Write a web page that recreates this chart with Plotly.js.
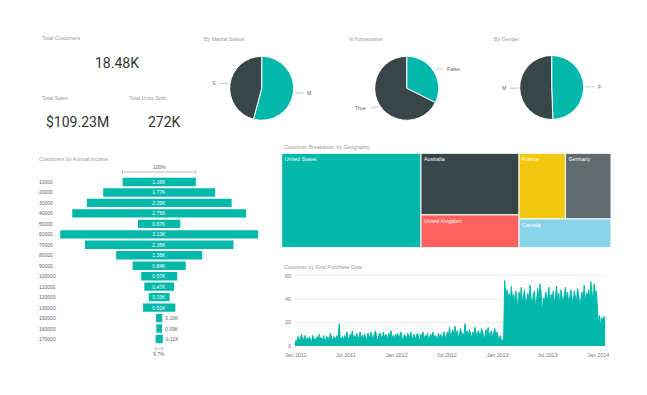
<!DOCTYPE html>
<html><head><meta charset="utf-8">
<script src="https://cdn.plot.ly/plotly-3.0.1.min.js"></script>
<style>html,body{margin:0;padding:0;background:#fff;}#chart{width:647px;height:395px;}</style>
</head><body><div id="chart"></div>
<script>
// ---------- DATA ----------
const kpiLabels = ['Total Customers', 'Total Sales', 'Total Units Sold'];
const kpiValues = [18484, 109230000, 272000];

const pieTitles = ['By Marital Status', 'Is Homeowner', 'By Gender'];
const maritalLabels = ['M', 'S'];
const maritalValues = [10011, 8473];
const homeLabels = ['False', 'True'];
const homeValues = [5982, 12502];
const genderLabels = ['F', 'M'];
const genderValues = [9133, 9351];

const incomeTitle = 'Customers by Annual Income';
const incomeCategories = ['10000','20000','30000','40000','50000','60000','70000','80000','90000','100000','110000','120000','130000','150000','160000','170000'];
const incomeCustomers = [1160,1770,2290,2750,670,3130,2350,1360,840,570,470,330,510,100,90,113];

const geoTitle = 'Customer Breakdown by Geography';
const geoRoot = 'All';
const countries = ['United States','Australia','United Kingdom','France','Germany','Canada'];
const countryCustomers = [7819,3591,1913,1810,1780,1571];

const dateTitle = 'Customer by First Purchase Date';
const firstPurchaseStart = '2010-12-29';
const firstPurchaseStepDays = 4;
const firstPurchaseCounts = [
 5,3,6,8,4,7,10,5,6,9,4,7,5,8,6,3,9,7,5,6,8,4,10,6,7,5,9,4,6,8,7,5,11,6,4,8,7,6,9,5,19,7,6,8,5,
 9,6,12,7,5,10,8,13,6,9,7,11,5,8,12,7,9,6,10,8,4,11,9,7,12,6,8,10,13,7,5,9,11,8,6,12,7,10,9,5,11,8,13,7,9,6,10,
 8,11,6,9,12,7,5,10,8,6,11,9,7,12,5,8,10,6,9,11,7,4,10,8,12,6,9,7,11,5,8,10,7,12,6,9,8,5,11,7,10,6,9,12,8,7,
 12,9,16,7,11,14,8,17,10,13,6,12,15,9,11,7,19,10,13,8,14,11,6,12,9,16,10,7,13,11,8,15,12,9,6,14,10,16,8,11,13,7,10,15,9,12,
 8,5,9,4,6,3,
 56,42,48,38,45,35,51,40,44,37,47,41,33,46,39,50,36,43,48,34,41,45,38,52,40,36,44,47,31,42,49,38,53,45,28,41,37,46,43,39,
 50,35,44,40,47,36,42,51,38,45,33,48,41,37,44,50,39,46,35,43,48,40,36,47,42,38,49,44,34,41,46,39,52,37,45,43,48,40,55,46,38,53,44,47,
 30,18,26,15,24,22,25,23
];

// ---------- STYLE ----------
const W = 647, H = 395;
const TEAL = '#01B8AA', DARK = '#374649';
const geoColors = ['#01B8AA','#374649','#FD625E','#F2C80F','#5F6B6D','#8AD4EB'];
const smallFont = 'Liberation Sans, Arial, sans-serif';
const titleColor = '#9a9a9a';
const px = x => x / W;
const py = y => 1 - y / H;

const annotations = [];
const shapes = [];
function label(text, x, y, opts) {
  annotations.push(Object.assign({text: text, x: px(x), y: py(y), xref: 'paper', yref: 'paper',
    showarrow: false, xanchor: 'left', yanchor: 'middle',
    font: {family: smallFont, size: 5.3, color: titleColor}}, opts || {}));
}

// KPI cards
const fmtK = v => (v / 1000).toFixed(2) + 'K';
const kpiText = [fmtK(kpiValues[0]), '$' + (kpiValues[1] / 1e6).toFixed(2) + 'M', Math.round(kpiValues[2] / 1000) + 'K'];
label(kpiLabels[0], 40, 38);
label(kpiLabels[1], 40, 98);
label(kpiLabels[2], 127, 98);
const bigFont = {family: 'Roboto, sans-serif', size: 14, color: '#333'};
label(kpiText[0], 116.5, 63, {xanchor: 'center', font: bigFont});
label(kpiText[1], 77.5, 122, {xanchor: 'center', font: bigFont});
label(kpiText[2], 164, 122, {xanchor: 'center', font: bigFont});

// Pies
const pieDefs = [
  {labels: maritalLabels, values: maritalValues, cx: 261.7, cy: 88.3, tx: 202},
  {labels: homeLabels, values: homeValues, cx: 406.7, cy: 88.3, tx: 347},
  {labels: genderLabels, values: genderValues, cx: 551.7, cy: 87.5, tx: 492}
];
const R = 32;
const traces = [];
pieDefs.forEach((p, k) => {
  label(pieTitles[k], p.tx, 39);
  traces.push({type: 'pie', labels: p.labels, values: p.values, sort: false, direction: 'clockwise', rotation: 0,
    textinfo: 'none', hoverinfo: 'none', showlegend: false,
    marker: {colors: [TEAL, DARK], line: {color: '#fff', width: 1}},
    domain: {x: [px(p.cx - R), px(p.cx + R)], y: [py(p.cy + R), py(p.cy - R)]}});
  const total = p.values.reduce((a, b) => a + b, 0);
  let cum = 0;
  p.values.forEach((v, i) => {
    const th = (cum + v / 2) / total * 2 * Math.PI;
    cum += v;
    const sn = Math.sin(th), cs = Math.cos(th);
    const ax = p.cx + (R + 1.5) * sn, ay = p.cy - (R + 1.5) * cs;
    const bx = p.cx + (R + 5) * sn, by = p.cy - (R + 5) * cs;
    const s = sn >= 0 ? 1 : -1;
    const cx2 = bx + s * 5;
    shapes.push({type: 'path', xref: 'paper', yref: 'paper',
      path: 'M' + px(ax) + ',' + py(ay) + ' L' + px(bx) + ',' + py(by) + ' L' + px(cx2) + ',' + py(by),
      line: {color: '#c8c8c8', width: 1}});
    label(p.labels[i], cx2 + s * 2, by, {xanchor: s > 0 ? 'left' : 'right', font: {family: smallFont, size: 5.3, color: '#666'}});
  });
});

// Funnel
label(incomeTitle, 37, 159);
traces.push({type: 'funnel', orientation: 'h', y: incomeCategories, x: incomeCustomers,
  xaxis: 'x', yaxis: 'y',
  text: incomeCustomers.map(fmtK), textinfo: 'text', textposition: 'auto', textangle: 0,
  insidetextanchor: 'middle', constraintext: 'none',
  insidetextfont: {family: smallFont, size: 5, color: '#fff'},
  outsidetextfont: {family: smallFont, size: 5, color: '#666'},
  marker: {color: TEAL}, connector: {visible: false}, hoverinfo: 'none'});
incomeCategories.forEach((c, i) => {
  annotations.push({text: c, xref: 'paper', yref: 'y', x: px(37), y: i, showarrow: false, xanchor: 'left', yanchor: 'middle',
    font: {family: smallFont, size: 5, color: '#666'}});
});
const nI = incomeCustomers.length;
const first = incomeCustomers[0], last = incomeCustomers[nI - 1];
[[first, -0.95, -1.45, '100%'], [last, nI - 1 + 0.93, nI - 1 + 1.45, (last / first * 100).toFixed(1) + '%']].forEach(b => {
  const [v, yl, yt, t] = b;
  shapes.push({type: 'line', xref: 'x', yref: 'y', x0: -v / 2, x1: v / 2, y0: yl, y1: yl, line: {color: '#bdbdbd', width: 1}});
  shapes.push({type: 'line', xref: 'x', yref: 'y', x0: -v / 2, x1: -v / 2, y0: yl - 0.2, y1: yl + 0.2, line: {color: '#bdbdbd', width: 1}});
  shapes.push({type: 'line', xref: 'x', yref: 'y', x0: v / 2, x1: v / 2, y0: yl - 0.2, y1: yl + 0.2, line: {color: '#bdbdbd', width: 1}});
  annotations.push({text: t, xref: 'x', yref: 'y', x: 0, y: yt, showarrow: false, xanchor: 'center', yanchor: 'middle',
    font: {family: smallFont, size: 5, color: '#666'}});
});

// Treemap (explicit root with zero padding so children fill the tile area)
label(geoTitle, 281.7, 146.7);
traces.push({type: 'treemap',
  labels: [geoRoot].concat(countries),
  parents: [''].concat(countries.map(() => geoRoot)),
  values: [0].concat(countryCustomers),
  branchvalues: 'remainder',
  sort: true, textposition: 'top left', hoverinfo: 'none',
  texttemplate: [''].concat(countries.map(() => '%{label}')),
  textfont: {family: smallFont, size: 5.3, color: '#fff'},
  marker: {colors: ['#ffffff'].concat(geoColors), line: {color: '#fff', width: 1}, pad: {t: 0, l: 0, r: 0, b: 0}},
  tiling: {packing: 'squarify', squarifyratio: 2, pad: 0},
  pathbar: {visible: false},
  domain: {x: [px(281.7), px(611)], y: [py(247.7), py(153.3)]}});

// Area chart
label(dateTitle, 281.7, 267.3);
const startMs = Date.parse(firstPurchaseStart + 'T00:00:00Z');
const dates = firstPurchaseCounts.map((_, i) => new Date(startMs + i * firstPurchaseStepDays * 86400000).toISOString().slice(0, 10));
traces.push({type: 'scatter', mode: 'lines', x: dates, y: firstPurchaseCounts, xaxis: 'x2', yaxis: 'y2',
  fill: 'tozeroy', fillcolor: TEAL, line: {color: TEAL, width: 1}, hoverinfo: 'none', showlegend: false});

const layout = {
  width: W, height: H, margin: {l: 0, r: 0, t: 0, b: 0},
  paper_bgcolor: '#fff', plot_bgcolor: 'rgba(0,0,0,0)', showlegend: false,
  font: {family: smallFont, size: 5.3, color: '#777'},
  xaxis: {domain: [px(54.2), px(264.2)], range: [-1661, 1661], visible: false, fixedrange: true},
  yaxis: {domain: [0.0914, 0.5896], type: 'category', range: [16.9, -1.9], visible: false, fixedrange: true},
  bargap: 0.14,
  xaxis2: {domain: [px(295), px(605.7)], anchor: 'y2', type: 'date', range: ['2010-12-29', '2014-01-28'],
    tick0: '2011-01-01', dtick: 'M6', tickformat: '%b %Y', showgrid: false, zeroline: false, showline: false, ticks: '',
    tickfont: {family: smallFont, size: 5.3, color: '#777'}, ticklabelstandoff: 5},
  yaxis2: {domain: [py(346), py(274.5)], anchor: 'x2', range: [0, 61], dtick: 20, tick0: 0, showgrid: true,
    gridcolor: '#ededed', gridwidth: 1, zeroline: false, showline: false, ticks: '',
    tickfont: {family: smallFont, size: 5.3, color: '#777'}, ticklabelstandoff: 3},
  annotations: annotations, shapes: shapes
};
Plotly.newPlot('chart', traces, layout, {displayModeBar: false, staticPlot: true});
</script>
</body></html>
